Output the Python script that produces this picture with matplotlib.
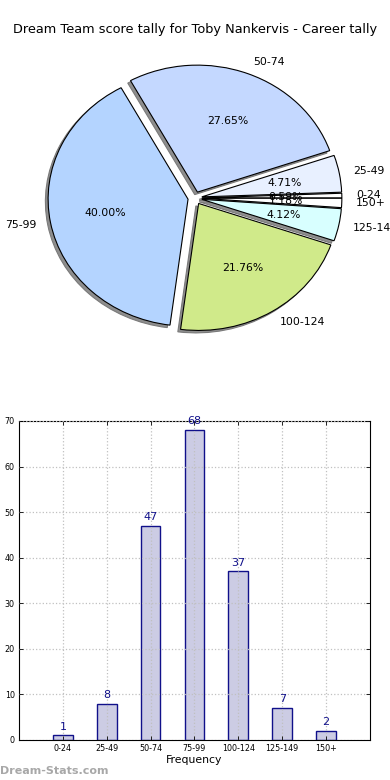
import matplotlib
matplotlib.use("Agg")
import matplotlib.pyplot as plt

# score buckets and how many games fell into each
buckets = ["0-24", "25-49", "50-74", "75-99", "100-124", "125-149", "150+"]
counts = [1, 8, 47, 68, 37, 7, 2]
pie_colors = ["#ffffff", "#e8f0ff", "#c4d8ff", "#b4d4ff", "#d0ea8a", "#d8ffff", "#ffffff"]
y_ticks = [0, 10, 20, 30, 40, 50, 60, 70]

title = "Dream Team score tally for Toby Nankervis - Career tally"


def main() -> None:
    fig = plt.figure(figsize=(3.9, 7.8), dpi=100)
    fig.text(0.5, 1 - 30 / 780, title, ha="center", va="center", fontsize=9.3)

    # pie (stretched a little, like the old non-equal-aspect pies)
    ax_pie = fig.add_axes([0.0513, 0.5426, 0.897, 0.407])
    ax_pie.pie(
        counts,
        labels=buckets,
        colors=pie_colors,
        explode=[0.05] * len(counts),
        autopct="%1.2f%%",
        shadow={"ox": -0.014, "oy": -0.014, "facecolor": "#8e8e8e",
                "edgecolor": "#7a7a7a", "alpha": 1.0},
        startangle=0,
        wedgeprops={"edgecolor": "black", "linewidth": 0.8},
        textprops={"fontsize": 7.8},
    )
    ax_pie.set_aspect("auto")
    ax_pie.set_xlim(-1.25, 1.25)
    ax_pie.set_ylim(-1.25, 1.25)

    # bar chart
    ax = fig.add_axes([0.0487, 0.0513, 0.9, 0.4090])
    xs = list(range(1, len(buckets) + 1))
    ax.bar(xs, counts, width=0.45, color="#cccce4", edgecolor="#10108a", linewidth=1.0)
    for x, c in zip(xs, counts):
        ax.text(x, c + 0.8, str(c), ha="center", va="bottom", fontsize=8, color="#10108a")
    ax.set_xlim(0, 8)
    ax.set_ylim(0, 70)
    ax.set_xticks(xs)
    ax.set_xticklabels(buckets, fontsize=5.8)
    ax.set_yticks(y_ticks)
    ax.tick_params(axis="y", labelsize=5.8)
    ax.tick_params(direction="in", top=True, right=True, length=3, width=0.6, pad=3)
    ax.grid(True, linestyle=":", color="#c0c0c0", linewidth=0.9)
    ax.set_axisbelow(False)
    ax.set_xlabel("Frequency", fontsize=7.8, labelpad=1)

    fig.text(0.0, 1 - 771 / 780, "Dream-Stats.com", ha="left", va="center",
             fontsize=8, fontweight="bold", color="#a8a8a8")

    fig.savefig("out.png", dpi=100)


if __name__ == "__main__":
    main()
